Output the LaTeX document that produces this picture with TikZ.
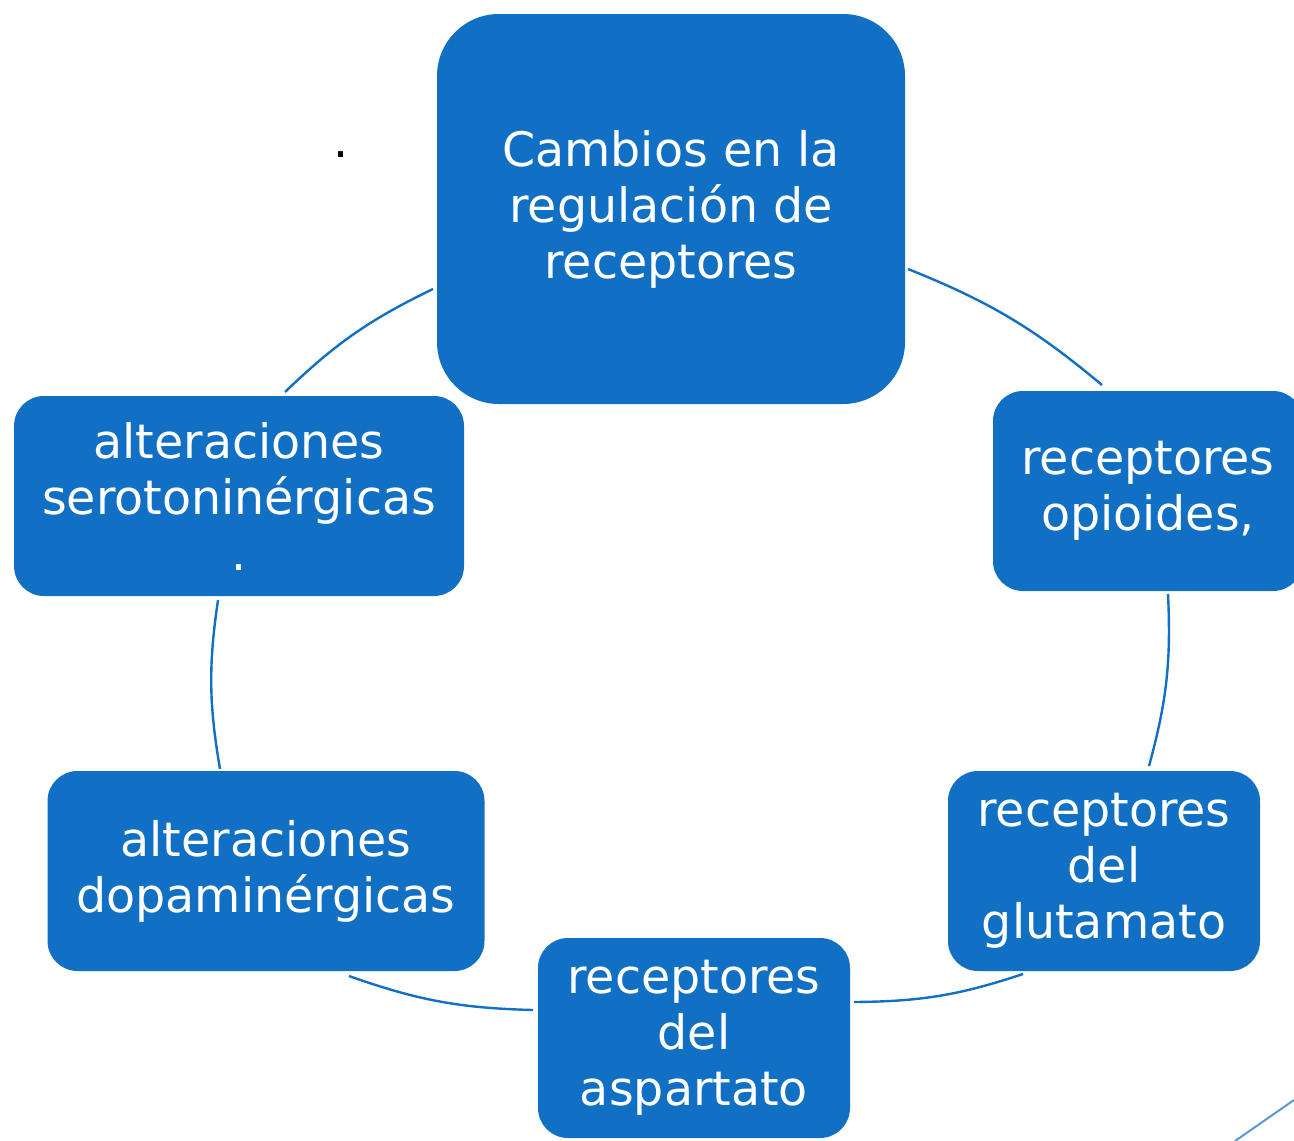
\documentclass[tikz,border=0pt]{standalone}
\usepackage{fontspec}
\setmainfont{DejaVu Sans}
\definecolor{boxblue}{RGB}{18,112,196}
\definecolor{lineblue}{RGB}{88,152,214}

\begin{document}
\begin{tikzpicture}
        [x=1pt,y=-1pt,
         every node/.style={align=center,text=white,font=\fontsize{47.5}{56}\selectfont},
         cycbox/.style={fill=boxblue,rounded corners=30pt,minimum width=#1,minimum height=200pt,inner sep=0},
         cycarc/.style={draw=boxblue,line width=2.4pt,bend left=9}]

        \useasboundingbox (0,0) rectangle (1294,1141);

        \node[cycbox=468pt,minimum height=390pt,rounded corners=62pt] (cambios) at (671,209) {Cambios en la\\regulación de\\receptores};
        \node[cycbox=310pt] (opioides) at (1148,491) {receptores\\opioides,};
        \node[cycbox=312pt] (glutamato) at (1104,871) {receptores\\del\\glutamato};
        \node[cycbox=312pt] (aspartato) at (694,1038) {receptores\\del\\aspartato};
        \node[cycbox=437pt] (dopa) at (266,871) {alteraciones\\dopaminérgicas};
        \node[cycbox=450pt] (sero) at (239,496) {alteraciones\\serotoninérgicas\\.};
        \node[text=black] (punto) at (341,155) {.};

        \coordinate (a1) at (285,392);
        \coordinate (b1) at (433,289);
        \coordinate (a2) at (908,269);
        \coordinate (b2) at (1102,385);
        \coordinate (a3) at (1168,594);
        \coordinate (b3) at (1149,766);
        \coordinate (a4) at (1023,974);
        \coordinate (b4) at (854,1002);
        \coordinate (a5) at (533,1010);
        \coordinate (b5) at (349,976);
        \coordinate (a6) at (220,769);
        \coordinate (b6) at (218,600);

        \draw [cycarc] (a1) to (b1);
        \draw [cycarc] (a2) to (b2);
        \draw [cycarc] (a3) to (b3);
        \draw [cycarc] (a4) to (b4);
        \draw [cycarc] (a5) to (b5);
        \draw [cycarc] (a6) to (b6);

        \coordinate (c1) at (1235,1141);
        \coordinate (c2) at (1294,1100);
        \draw [lineblue,line width=2pt] (c1) -- (c2);

      \end{tikzpicture}
\end{document}
